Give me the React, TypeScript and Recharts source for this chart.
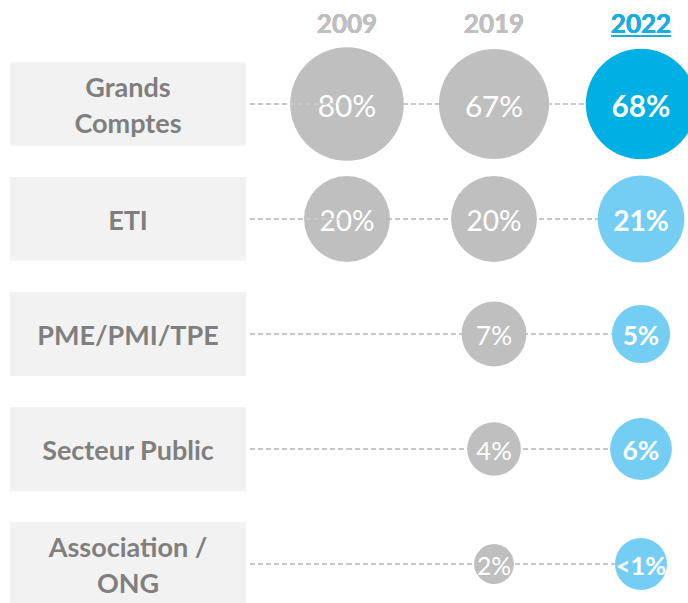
import { ScatterChart, Scatter, XAxis, YAxis, CartesianGrid } from "recharts"

const categories = ["Grands\nComptes", "ETI", "PME/PMI/TPE", "Secteur Public", "Association /\nONG"]
const years = ["2009", "2019", "2022"]
const share2009 = [80, 20, null, null, null]
const share2019 = [67, 20, 7, 4, 2]
const share2022 = [68, 21, 5, 6, 0.5]

const GREY = "#bfbfbf"
const BLUE_DARK = "#00b0e4"
const BLUE_LIGHT = "#74cef3"
const FONT = "Lato, 'Open Sans', sans-serif"

const toRows = (year: string, values: (number | null)[]) =>
  categories.map((cat, i) => ({ year, cat, value: values[i] }))

const data2009 = toRows(years[0], share2009)
const data2019 = toRows(years[1], share2019)
const data2022 = toRows(years[2], share2022)

// bubble radius grows with the log of the share
const radius = (v: number, highlight: boolean) => {
  const r = 13 + 10 * Math.log(v)
  return highlight ? Math.max(r, 26) : Math.max(r, 18)
}

const fmt = (v: number) => (v < 1 ? "<1%" : `${v}%`)

function Bubble(props: any) {
  const { cx, cy, payload, highlight } = props
  const v = payload?.value
  if (v == null || cx == null || cy == null) return <g />
  const r = radius(v, highlight)
  let fill = GREY
  if (highlight) fill = v >= 50 ? BLUE_DARK : BLUE_LIGHT
  const fs = 22 + r * 0.14
  return (
    <g>
      <circle cx={cx} cy={cy} r={r} fill={fill} />
      <text
        x={cx}
        y={cy + 1}
        textAnchor="middle"
        dominantBaseline="central"
        fill="#fff"
        fontFamily={FONT}
        fontWeight={highlight ? 700 : 400}
        fontSize={fs}
      >
        {fmt(v)}
      </text>
    </g>
  )
}

function YearTick(props: any) {
  const { x, y, payload } = props
  const last = payload.value === years[years.length - 1]
  const color = last ? "#1aaee0" : GREY
  return (
    <g>
      <text x={x} y={y - 71} textAnchor="middle" fill={color} fontFamily={FONT} fontWeight={700} fontSize={26}>
        {payload.value}
      </text>
      {last && <line x1={x - 30} x2={x + 30} y1={y - 68} y2={y - 68} stroke={color} strokeWidth={2} />}
    </g>
  )
}

function CategoryTick(props: any) {
  const { x, y, payload } = props
  const lines = String(payload.value).split("\n")
  const boxLeft = x - 337
  const boxW = 236
  const lh = 36
  return (
    <g>
      <line x1={boxLeft + boxW + 4} x2={x} y1={y} y2={y} stroke="#c8c8c8" strokeWidth={2} strokeDasharray="5 3" />
      <rect x={boxLeft} y={y - 42} width={boxW} height={84} fill="#f2f2f2" />
      <text
        x={boxLeft + boxW / 2}
        y={y - ((lines.length - 1) * lh) / 2}
        textAnchor="middle"
        dominantBaseline="central"
        fill="#7f7f7f"
        fontFamily={FONT}
        fontWeight={700}
        fontSize={27}
      >
        {lines.map((l, i) => (
          <tspan key={i} x={boxLeft + boxW / 2} dy={i === 0 ? 0 : lh}>
            {l}
          </tspan>
        ))}
      </text>
    </g>
  )
}

export default function App() {
  return (
    <div style={{ position: "absolute", left: 0, top: 0, width: 688, height: 603, background: "#fff" }}>
      <ScatterChart width={688} height={603} margin={{ top: 0, right: 47, bottom: 39, left: 0 }}>
        <CartesianGrid horizontal vertical={false} stroke="#c8c8c8" strokeWidth={2} strokeDasharray="5 3" />
        <XAxis
          dataKey="year"
          type="category"
          scale="point"
          orientation="top"
          allowDuplicatedCategory={false}
          height={104}
          axisLine={false}
          tickLine={false}
          tickSize={0}
          tickMargin={0}
          tick={<YearTick />}
        />
        <YAxis
          dataKey="cat"
          type="category"
          scale="point"
          reversed
          allowDuplicatedCategory={false}
          width={347}
          axisLine={false}
          tickLine={false}
          tickSize={0}
          tickMargin={0}
          interval={0}
          tick={<CategoryTick />}
        />
        <Scatter data={data2009} isAnimationActive={false} shape={<Bubble highlight={false} />} />
        <Scatter data={data2019} isAnimationActive={false} shape={<Bubble highlight={false} />} />
        <Scatter data={data2022} isAnimationActive={false} shape={<Bubble highlight={true} />} />
      </ScatterChart>
    </div>
  )
}
